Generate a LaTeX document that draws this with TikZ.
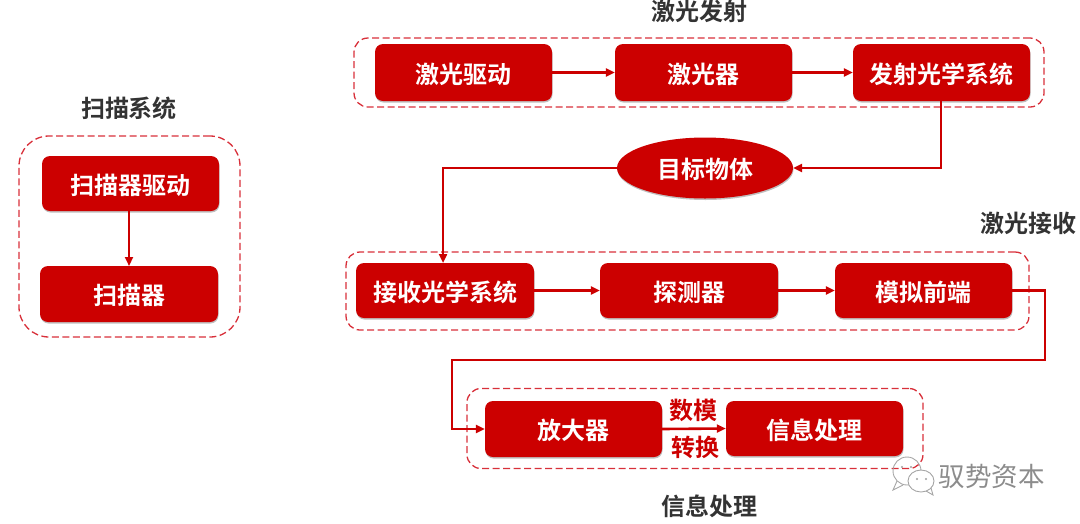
\documentclass[tikz,border=0pt]{standalone}
\usepackage{fontspec}
\setmainfont{Noto Sans CJK SC}[BoldFont={Noto Sans CJK SC Bold}]
\usetikzlibrary{shadows,arrows.meta,shapes.geometric}
\definecolor{rd}{HTML}{CC0000}
\definecolor{dashrd}{HTML}{D8303A}
\definecolor{ttl}{HTML}{333333}
\tikzset{
  x=1pt,y=-1pt,
  bigfont/.style={font=\bfseries\fontsize{24}{26}\selectfont},
  softshadow/.style={drop shadow={shadow xshift=0.5pt,shadow yshift=-1.5pt,opacity=.25,fill=black}},
  redbox/.style={rectangle,rounded corners=8pt,fill=rd,text=white,bigfont,softshadow,inner sep=0pt,anchor=center},
  group/.style={draw=dashrd,line width=1.3pt,dash pattern=on 7pt off 3.5pt,fill=none},
  ttlnode/.style={text=ttl,bigfont,inner sep=0pt},
  conn/.style={draw=rd,line width=2.6pt,-{Triangle[length=9pt,width=8pt]}},
  lbl/.style={text=rd,bigfont,inner sep=0pt},
}
\newcommand{\shifted}[1]{\raisebox{-1.5pt}[\height][\depth]{#1}}
\newcommand{\rbox}[6]{\node[redbox,minimum width=#4pt-#3pt,minimum height=#6pt-#5pt] (#1) at ({(#3+#4)/2},{(#5+#6)/2}) {\shifted{#2}};}
\begin{document}
\begin{tikzpicture}
\useasboundingbox (0,0) rectangle (1080,523);
% groups
\node[group,rounded corners=14pt,rectangle,minimum width=690pt,minimum height=69pt,inner sep=0pt] (g1) at (699,72.5) {};
\node[group,rounded corners=30pt,rectangle,minimum width=221pt,minimum height=201pt,inner sep=0pt] (g0) at (129.5,236.5) {};
\node[group,rounded corners=14pt,rectangle,minimum width=683pt,minimum height=78pt,inner sep=0pt] (g2) at (687.5,291) {};
\node[group,rounded corners=14pt,rectangle,minimum width=456pt,minimum height=80pt,inner sep=0pt] (g3) at (695,428.5) {};
% titles
\node[ttlnode] (t1) at (699,11) {激光发射};
\node[ttlnode] (t0) at (129,108) {扫描系统};
\node[ttlnode] (t2) at (1028,223) {激光接收};
\node[ttlnode] (t3) at (709,506) {信息处理};
% boxes
\rbox{a}{激光驱动}{375}{552}{44}{101}
\rbox{b}{激光器}{615}{792}{44}{101}
\rbox{c}{发射光学系统}{853}{1030}{44}{101}
\rbox{s}{扫描器驱动}{42}{219}{156}{211}
\rbox{r}{扫描器}{40}{218}{266}{322}
\rbox{d}{接收光学系统}{356}{534}{263}{318}
\rbox{e}{探测器}{600}{778}{263}{318}
\rbox{f}{模拟前端}{835}{1012}{263}{318}
\rbox{h}{放大器}{485}{662}{401}{457}
\rbox{i}{信息处理}{726}{903}{401}{456}
\node[ellipse,fill=rd,text=white,bigfont,minimum width=176pt,minimum height=61pt,inner sep=0pt,softshadow] (o) at (705,168) {\shifted{目标物体}};
% labels
\node[lbl] (l1) at (693,410) {数模};
\node[lbl] (l2) at (695,447) {转换};
% connectors
\coordinate (c1) at (941,101);
\coordinate (c2) at (443,263);
\coordinate (c3) at (1045,360);
\coordinate (c4) at (452,360);
\coordinate (s1) at (129,211);
\coordinate (s2) at (129,266);
\draw[conn] (a.east) -- (b.west);
\draw[conn] (b.east) -- (c.west);
\draw[conn] (c1) |- (o.east);
\draw[conn] (o.west) -| (c2);
\draw[conn] (s1) -- (s2);
\draw[conn] (d.east) -- (e.west);
\draw[conn] (e.east) -- (f.west);
\draw[conn] (f.east) -| (c3) -- (c4) |- (h.west);
\draw[conn] (h.east) -- (i.west);
% watermark
\begin{scope}[draw=gray!70,fill=white,line width=0.9pt]
\draw (907,471) ellipse [x radius=14,y radius=14];
\filldraw (921,481) ellipse [x radius=13,y radius=11];
\draw (897,481) -- (893,490) -- (903,485);
\draw (926,491) -- (933,495) -- (931,488);
\fill[gray!75] (902,467) circle (1.1) (911,467) circle (1.1) (917,479) circle (1.1) (926,479) circle (1.1);
\end{scope}
\node[text=gray!90,font=\fontsize{26.5}{28}\selectfont,inner sep=0pt] (w) at (991.5,476) {驭势资本};
\end{tikzpicture}
\end{document}
